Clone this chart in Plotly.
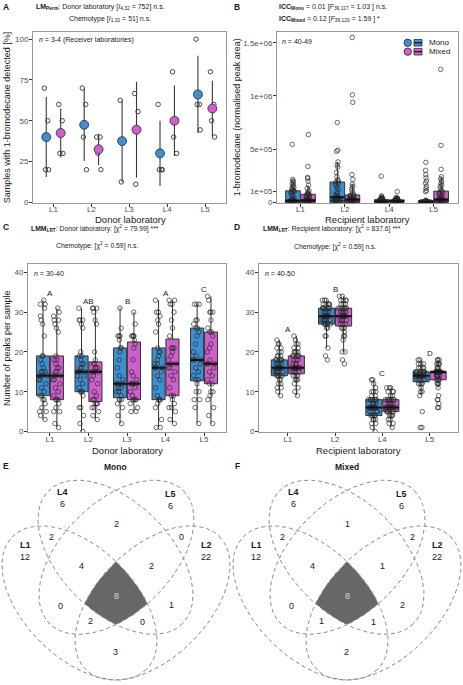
import numpy as np
import plotly.graph_objects as go

W, H = 463, 685
FONT = "Liberation Sans, Arial, sans-serif"

donor_labs = ["L1", "L2", "L3", "L4", "L5"]
recipient_labs = ["L1", "L2", "L4", "L5"]
chemotypes = ["Mono", "Mixed"]
colors = {"Mono": "#3E8ED0", "Mixed": "#CF5FCB"}

# ---------------- Panel A: % samples with 1-bromodecane (per receiver lab)
a_mono = [[70, 50, 20, 20], [70, 60, 40, 20], [62.5, 37.5, 12.5], [60, 20, 20, 20], [100, 60, 60, 44.4]]
a_mixed = [[60, 50, 30, 30], [40, 40, 30, 20], [66.7, 55.6, 11.1], [80, 50, 40, 30], [80, 60, 50, 40]]

# ---------------- Panel B: normalised peak area (thousands)
b_mono = [
    [0] * 16 + [3, 5, 6, 8, 10, 12, 15, 20, 25, 30, 40, 55, 70, 85, 95, 100, 105, 110, 120, 130, 140, 150, 160, 175, 190, 200, 215, 544],
    [0] * 12 + [5, 10, 15, 20, 25, 30, 35, 40, 45, 50, 60, 70, 80, 100, 120, 140, 160, 170, 180, 190, 200, 210, 240, 280, 330, 350, 380, 480, 490, 750],
    [0] * 15 + [2, 3, 4, 5, 6, 7, 8, 8, 9, 10, 12, 14, 15, 16, 18, 20, 22, 24, 25, 26, 28, 30, 32, 35, 40, 45, 50, 60, 245],
    [0] * 28 + [3, 5, 8, 10, 12, 15, 20, 100, 110, 130, 150, 180, 200, 230, 260, 300, 375],
]
b_mixed = [
    [0] * 14 + [2, 4, 5, 7, 9, 10, 12, 15, 18, 20, 25, 30, 35, 40, 45, 50, 55, 60, 65, 70, 75, 80, 85, 95, 110, 130, 160, 200, 225, 234, 337, 637],
    [0] * 13 + [3, 5, 8, 10, 12, 15, 18, 20, 25, 28, 30, 35, 40, 45, 50, 55, 60, 62, 66, 70, 90, 110, 130, 150, 170, 215, 260, 940, 1010, 1550],
    [0] * 14 + [2, 3, 4, 5, 6, 8, 9, 10, 11, 12, 13, 14, 15, 16, 18, 20, 22, 24, 25, 26, 28, 30, 35, 38, 40, 45, 100],
    [0] * 12 + [3, 5, 8, 10, 12, 15, 18, 20, 22, 25, 28, 30, 35, 40, 50, 60, 70, 80, 85, 90, 100, 110, 130, 150, 160, 180, 200, 220, 240, 310, 535, 1250],
]

# ---------------- Panel C: number of peaks per sample (by donor lab)
c_mono = [
    [3, 4, 5, 5, 6, 7, 8, 8, 9, 9, 10, 11, 12, 13, 13, 14, 14, 14, 15, 15, 15, 16, 17, 18, 19, 19, 24, 27, 28, 29, 31, 32, 32, 33],
    [0, 2, 4, 6, 6, 9, 10, 10, 10, 11, 12, 13, 14, 14, 15, 15, 15, 15, 16, 16, 17, 17, 18, 19, 19, 20, 26, 27, 28, 28, 28, 31],
    [2, 4, 6, 7, 8, 8, 8, 9, 10, 10, 11, 11, 12, 12, 12, 13, 14, 16, 18, 20, 21, 21, 23, 24, 24, 24, 26, 31],
    [1, 1, 3, 6, 7, 8, 8, 8, 9, 11, 13, 14, 15, 16, 16, 16, 17, 17, 18, 19, 20, 20, 21, 25, 27, 28, 29, 30, 30, 33],
    [2, 6, 8, 8, 10, 10, 12, 13, 13, 14, 15, 16, 17, 18, 18, 18, 19, 20, 22, 24, 25, 26, 26, 27, 28, 28, 32, 32, 32],
]
c_mixed = [
    [1, 2, 5, 5, 6, 7, 8, 8, 8, 9, 10, 11, 12, 13, 13, 14, 14, 14, 15, 15, 16, 16, 17, 18, 18, 19, 25, 26, 27, 28, 28, 29, 30, 31],
    [3, 4, 5, 6, 6, 7, 7, 7, 8, 8, 9, 10, 12, 13, 14, 15, 15, 15, 15, 16, 16, 16, 17, 17, 18, 20, 27, 28, 30, 31, 31, 31],
    [5, 5, 6, 7, 8, 8, 8, 8, 9, 10, 11, 12, 12, 12, 12, 13, 14, 15, 18, 21, 22, 23, 24, 24, 24, 24, 27, 30],
    [2, 3, 5, 6, 6, 7, 8, 9, 9, 11, 13, 14, 15, 16, 16, 17, 17, 18, 19, 20, 21, 21, 21, 24, 26, 28, 30, 32, 32, 33, 33],
    [2, 4, 6, 8, 9, 10, 10, 12, 12, 13, 14, 15, 16, 17, 17, 17, 18, 20, 21, 22, 24, 25, 25, 26, 28, 30, 30, 30, 33, 34],
]
c_letters = ["A", "AB", "B", "A", "C"]

# ---------------- Panel D: number of peaks per sample (by recipient lab)
d_mono = [
    [9, 10, 11, 11, 12, 12, 13, 13, 14, 14, 14, 14, 14, 15, 15, 15, 15, 15, 15, 16, 16, 16,
     16, 16, 16, 17, 17, 17, 17, 18, 18, 18, 18, 18, 19, 19, 19, 20, 20, 21, 21, 22, 22, 23],
    [18, 19, 21, 24, 24, 26, 26, 27, 27, 27, 27, 27, 27, 28, 28, 28, 28, 28, 28, 29, 29, 29,
     29, 29, 29, 30, 30, 30, 30, 31, 31, 31, 31, 31, 31, 31, 32, 32, 32, 32, 32, 33, 33, 33],
    [0, 1, 2, 2, 3, 3, 3, 4, 4, 4, 4, 4, 5, 5, 5, 5, 6, 6, 6, 6, 6, 6,
     6, 6, 7, 7, 7, 7, 8, 8, 8, 8, 8, 8, 8, 9, 9, 10, 10, 10, 11, 12, 13, 13],
    [1, 1, 5, 9, 10, 10, 11, 12, 12, 12, 12, 13, 13, 13, 13, 13, 14, 14, 14, 14, 14, 14,
     14, 14, 14, 14, 15, 15, 15, 15, 15, 15, 15, 15, 15, 16, 16, 16, 16, 17, 17, 17, 18, 18],
]
d_mixed = [
    [9, 10, 11, 12, 13, 13, 13, 14, 14, 14, 14, 15, 15, 15, 15, 16, 16, 16, 16, 16, 16, 16,
     16, 17, 17, 17, 18, 18, 18, 19, 19, 19, 19, 19, 20, 20, 20, 20, 21, 21, 22, 22, 23, 24],
    [17, 18, 20, 20, 23, 24, 24, 25, 26, 26, 26, 27, 27, 27, 28, 28, 28, 28, 29, 29, 29, 29,
     29, 29, 30, 30, 30, 30, 30, 31, 31, 31, 31, 31, 31, 32, 32, 32, 33, 33, 33, 33, 34, 34],
    [1, 2, 2, 3, 3, 4, 4, 4, 4, 5, 5, 5, 5, 5, 5, 6, 6, 6, 6, 6, 6, 6,
     6, 6, 7, 7, 7, 7, 7, 8, 8, 8, 8, 8, 8, 8, 9, 9, 10, 10, 10, 11, 11, 11],
    [6, 6, 7, 8, 8, 9, 11, 12, 12, 12, 13, 13, 13, 13, 14, 14, 14, 14, 14, 14, 15, 15,
     15, 15, 15, 15, 15, 15, 15, 15, 15, 15, 15, 16, 16, 16, 17, 17, 17, 17, 18, 18, 18],
]
d_letters = ["A", "B", "C", "D"]

# ---------------- Panels E/F: Venn counts
venn_sets = ["L4", "L5", "L1", "L2"]
venn_unique_mono = [6, 6, 12, 22]
venn_unique_mixed = [6, 6, 12, 22]
venn_regions = ["L4&L5", "L1&L4", "L2&L5", "L1&L4&L5", "L2&L4&L5", "L1&L2&L4&L5",
                "L1&L5", "L2&L4", "L1&L2&L5", "L1&L2&L4", "L1&L2"]
venn_mono = [2, 2, 0, 4, 2, 8, 0, 1, 2, 0, 3]
venn_mixed = [1, 2, 2, 4, 1, 8, 0, 2, 1, 1, 2]

# ================= layout helpers (pixel geometry)
def dx(x0, x1):
    return [x0 / W, x1 / W]

def dy(y0, y1):
    return [1 - y1 / H, 1 - y0 / H]

annotations = []
shapes = []

def T(x, y, text, size=7.5, color="#1a1a1a", xa="center", ya="middle", angle=0):
    annotations.append(dict(x=x / W, y=1 - y / H, xref="paper", yref="paper", text=text,
                            showarrow=False, font=dict(size=size, color=color, family=FONT),
                            xanchor=xa, yanchor=ya, textangle=angle))

axis_base = dict(showline=True, linecolor="#999999", linewidth=1, mirror=True, ticks="outside",
                 ticklen=3, tickwidth=1, tickcolor="#333333", showgrid=False, zeroline=False,
                 tickfont=dict(size=8, color="#4d4d4d", family=FONT), fixedrange=True)
xaxis_base = dict(axis_base, ticklabelstandoff=-4)
yaxis_base = dict(axis_base, ticklabelstandoff=-1)

fig = go.Figure()
OFF = {"Mono": -1, "Mixed": 1}

# ---------------- Panel A traces
a_data = {"Mono": a_mono, "Mixed": a_mixed}
jit = [-0.05, 0.04, -0.02, 0.06]
for ch in chemotypes:
    for i, vals in enumerate(a_data[ch]):
        xc = i + 1 + OFF[ch] * 0.19
        v = np.array(vals, dtype=float)
        fig.add_trace(go.Scatter(x=[xc + jit[k % 4] for k in range(len(v))], y=v, mode="markers",
                                 marker=dict(symbol="circle-open", size=4.5, color="#333333", line=dict(width=0.9)),
                                 xaxis="x", yaxis="y", hoverinfo="skip"))
        m, sd = v.mean(), v.std(ddof=1)
        fig.add_trace(go.Scatter(x=[xc, xc], y=[m - sd, m + sd], mode="lines",
                                 line=dict(color="#3a3a3a", width=1.1), xaxis="x", yaxis="y", hoverinfo="skip"))
        fig.add_trace(go.Scatter(x=[xc], y=[m], mode="markers",
                                 marker=dict(size=9, color=colors[ch], line=dict(color="#2a2a2a", width=0.8)),
                                 xaxis="x", yaxis="y", hoverinfo="skip"))

# ---------------- box helper
def add_boxes(data_by_ch, xa, ya, off, width, scale=1.0, jitter=0.75):
    for ch in chemotypes:
        for i, vals in enumerate(data_by_ch[ch]):
            xc = i + 1 + OFF[ch] * off
            v = np.array(vals, dtype=float) * scale
            fig.add_trace(go.Box(x=[xc] * len(v), y=v, width=width, boxpoints="all", jitter=jitter,
                                 pointpos=0, fillcolor=colors[ch], whiskerwidth=0,
                                 line=dict(color="#333333", width=1),
                                 marker=dict(symbol="circle-open", size=4.5, color="rgba(40,40,40,0.85)",
                                             line=dict(width=0.8)),
                                 xaxis=xa, yaxis=ya, hoverinfo="skip"))
            med = float(np.median(v))
            fig.add_trace(go.Scatter(x=[xc - width / 2, xc + width / 2], y=[med, med], mode="lines",
                                     line=dict(color="#111111", width=2), xaxis=xa, yaxis=ya, hoverinfo="skip"))

add_boxes({"Mono": b_mono, "Mixed": b_mixed}, "x2", "y2", 0.17, 0.33, scale=1000.0, jitter=0.8)
add_boxes({"Mono": c_mono, "Mixed": c_mixed}, "x3", "y3", 0.18, 0.34)
add_boxes({"Mono": d_mono, "Mixed": d_mixed}, "x4", "y4", 0.18, 0.34)

# significance letters
for i, L in enumerate(c_letters):
    top = max(max(c_mono[i]), max(c_mixed[i]))
    annotations.append(dict(x=i + 1, y=top + 1.7, xref="x3", yref="y3", text=L, showarrow=False,
                            font=dict(size=8, color="#1a1a1a", family=FONT)))
for i, L in enumerate(d_letters):
    top = max(max(d_mono[i]), max(d_mixed[i]))
    annotations.append(dict(x=i + 1, y=top + 1.6, xref="x4", yref="y4", text=L, showarrow=False,
                            font=dict(size=8, color="#1a1a1a", family=FONT)))

# ---------------- Venn geometry (in panel pixel units)
ell_c = [(115.5, 560.5), (116.5, 560.5), (79.5, 606.5), (152.5, 606.5)]  # L4, L5, L1, L2
ell_phi = [45, -45, 45, -45]
EA, EB = 94.6, 55.4
tt = np.linspace(0, 2 * np.pi, 241)

def ray_t(o, d, c, phi):
    cp, sp = np.cos(phi), np.sin(phi)
    ox, oy = o[0] - c[0], o[1] - c[1]
    ou, ov = ox * cp + oy * sp, -ox * sp + oy * cp
    du, dv = d[0] * cp + d[1] * sp, -d[0] * sp + d[1] * cp
    A = du ** 2 / EA ** 2 + dv ** 2 / EB ** 2
    B = 2 * (ou * du / EA ** 2 + ov * dv / EB ** 2)
    C = ou ** 2 / EA ** 2 + ov ** 2 / EB ** 2 - 1
    return (-B + np.sqrt(B * B - 4 * A * C)) / (2 * A)

origin = (116.0, 598.0)
core_x, core_y = [], []
for ang in np.linspace(0, 2 * np.pi, 721):
    d = (np.cos(ang), np.sin(ang))
    t = min(ray_t(origin, d, c, np.radians(p)) for c, p in zip(ell_c, ell_phi))
    core_x.append(origin[0] + t * d[0])
    core_y.append(origin[1] + t * d[1])

label_pos_sets = [[(62, 495), (62, 507)], [(170, 497), (170, 509)], [(25, 548), (25, 560)], [(206, 548), (206, 560)]]
label_pos_regions = [(116, 527), (51, 540), (181, 540), (81, 569), (151, 569), (116, 599),
                     (60, 610), (171, 609), (90, 625), (142, 626), (115, 656)]

for k, (xa, ya, uniq, reg) in enumerate([("x5", "y5", venn_unique_mono, venn_mono),
                                         ("x6", "y6", venn_unique_mixed, venn_mixed)]):
    fig.add_trace(go.Scatter(x=core_x, y=core_y, mode="lines", fill="toself", fillcolor="#676767",
                             line=dict(width=0, color="#676767"), xaxis=xa, yaxis=ya, hoverinfo="skip"))
    for c, p in zip(ell_c, ell_phi):
        ph = np.radians(p)
        ex = c[0] + EA * np.cos(tt) * np.cos(ph) - EB * np.sin(tt) * np.sin(ph)
        ey = c[1] + EA * np.cos(tt) * np.sin(ph) + EB * np.sin(tt) * np.cos(ph)
        fig.add_trace(go.Scatter(x=ex, y=ey, mode="lines", line=dict(color="#8a8a8a", width=1, dash="4px,3px"),
                                 xaxis=xa, yaxis=ya, hoverinfo="skip"))
    for s, u, (p1, p2) in zip(venn_sets, uniq, label_pos_sets):
        annotations.append(dict(x=p1[0], y=p1[1], xref=xa, yref=ya, text="<b>" + s + "</b>", showarrow=False,
                                font=dict(size=9, color="#1a1a1a", family=FONT)))
        annotations.append(dict(x=p2[0], y=p2[1], xref=xa, yref=ya, text=str(u), showarrow=False,
                                font=dict(size=9, color="#1a1a1a", family=FONT)))
    for r, v, p in zip(venn_regions, reg, label_pos_regions):
        col = "#d8d8d8" if r == "L1&L2&L4&L5" else "#1a1a1a"
        annotations.append(dict(x=p[0], y=p[1], xref=xa, yref=ya, text=str(v), showarrow=False,
                                font=dict(size=9, color=col, family=FONT)))

# ---------------- axes
fig.update_layout(
    xaxis=dict(xaxis_base, domain=dx(33, 226), range=[0.46, 5.55], tickvals=[1, 2, 3, 4, 5], ticktext=donor_labs, anchor="y"),
    yaxis=dict(yaxis_base, domain=dy(32, 204), range=[-0.3, 104.5], tickvals=[0, 25, 50, 75, 100], anchor="x"),
    xaxis2=dict(xaxis_base, domain=dx(277, 458), range=[0.47, 4.55], tickvals=[1, 2, 3, 4], ticktext=recipient_labs, anchor="y2"),
    yaxis2=dict(yaxis_base, domain=dy(32, 204), range=[-5000, 1.603e6], tickvals=[0, 1e5, 5e5, 1e6, 1.5e6],
                ticktext=["0", "1e+05", "5e+05", "1e+06", "1.5e+06"], anchor="x2"),
    xaxis3=dict(xaxis_base, domain=dx(28, 226), range=[0.43, 5.57], tickvals=[1, 2, 3, 4, 5], ticktext=donor_labs, anchor="y3"),
    yaxis3=dict(yaxis_base, domain=dy(266, 435), range=[-0.25, 42], tickvals=[0, 10, 20, 30, 40], anchor="x3"),
    xaxis4=dict(xaxis_base, domain=dx(259, 458), range=[0.39, 4.6], tickvals=[1, 2, 3, 4], ticktext=recipient_labs, anchor="y4"),
    yaxis4=dict(yaxis_base, domain=dy(266, 435), range=[-0.25, 42], tickvals=[0, 10, 20, 30, 40], anchor="x4"),
    xaxis5=dict(domain=dx(0, 232), range=[0, 232], visible=False, fixedrange=True, anchor="y5"),
    yaxis5=dict(domain=dy(470, 685), range=[685, 470], visible=False, fixedrange=True, anchor="x5"),
    xaxis6=dict(domain=dx(231, 463), range=[0, 232], visible=False, fixedrange=True, anchor="y6"),
    yaxis6=dict(domain=dy(470, 685), range=[685, 470], visible=False, fixedrange=True, anchor="x6"),
)

# ---------------- text
T(6, 7, "<b>A</b>", size=8.5)
T(237, 7, "<b>B</b>", size=8.5)
T(6, 228, "<b>C</b>", size=8.5)
T(237, 228, "<b>D</b>", size=8.5)
T(6, 469, "<b>E</b>", size=8.5)
T(237, 469, "<b>F</b>", size=8.5)

T(34, 7, "<b>LM<sub>Perm</sub></b>: Donor laboratory [<i>I</i><sub>4,32</sub> = 752] n.s.", size=7, xa="left")
T(110, 19, "Chemotype [<i>I</i><sub>1,32</sub> = 51] n.s.", size=7)
T(277, 7, "<b>ICC<sub>Mono</sub></b> = 0.01 [<i>F</i><sub>39,117</sub> = 1.03 ] n.s.", size=7, xa="left")
T(277, 19, "<b>ICC<sub>Mixed</sub></b> = 0.12 [<i>F</i><sub>39,120</sub> = 1.59 ] *", size=7, xa="left")
T(95, 230, "<b>LMM<sub>LRT</sub></b>: Donor laboratory: [χ<sup>2</sup> = 79.99] ***", size=6.8)
T(97, 247, "Chemotype: [χ<sup>2</sup> = 0.59] n.s.", size=6.8)
T(332, 230, "<b>LMM<sub>LRT</sub></b>: Recipient laboratory: [χ<sup>2</sup> = 837.6] ***", size=6.8)
T(335, 248, "Chemotype: [χ<sup>2</sup> = 0.59] n.s.", size=6.8)

T(37, 40, "<i>n</i> = 3-4 (Receiver laboratories)", size=7, xa="left")
T(280, 42, "<i>n</i> = 40-49", size=7, xa="left")
T(32, 275, "<i>n</i> = 30-40", size=7, xa="left")
T(263, 275, "<i>n</i> = 40-50", size=7, xa="left")

T(7, 118, "Samples with 1-bromodecane detected [%]", size=9, angle=-90)
T(130, 221, "Donor laboratory", size=9.5)
T(237, 118, "1-bromodecane (normalised peak area)", size=9, angle=-90)
T(367, 221, "Recipient laboratory", size=9.5)
T(7, 350, "Number of peaks per sample", size=9, angle=-90)
T(127, 453, "Donor laboratory", size=9.5)
T(358, 453, "Recipient laboratory", size=9.5)

T(116, 470, "<b>Mono</b>", size=8.5)
T(347, 470, "<b>Mixed</b>", size=8.5)

# legend in panel B
for ch, yy in [("Mono", 43), ("Mixed", 52)]:
    shapes.append(dict(type="circle", xref="paper", yref="paper", x0=404 / W, x1=411.5 / W,
                       y0=1 - (yy + 3.7) / H, y1=1 - (yy - 3.7) / H, fillcolor=colors[ch],
                       line=dict(color="#2a2a2a", width=0.8)))
    shapes.append(dict(type="rect", xref="paper", yref="paper", x0=414 / W, x1=422 / W,
                       y0=1 - (yy + 3.3) / H, y1=1 - (yy - 3.3) / H, fillcolor=colors[ch],
                       line=dict(color="#2a2a2a", width=0.8)))
    shapes.append(dict(type="line", xref="paper", yref="paper", x0=414 / W, x1=422 / W,
                       y0=1 - yy / H, y1=1 - yy / H, line=dict(color="#111111", width=1.2)))
    T(427, yy, ch, size=8, xa="left")

fig.update_layout(width=W, height=H, margin=dict(l=0, r=0, t=0, b=0), paper_bgcolor="white",
                  plot_bgcolor="white", showlegend=False, annotations=annotations, shapes=shapes,
                  font=dict(family=FONT))
fig.write_html("out.html", config={"displayModeBar": False},
               post_script="document.body.style.margin='0px';document.body.style.overflow='hidden';")
